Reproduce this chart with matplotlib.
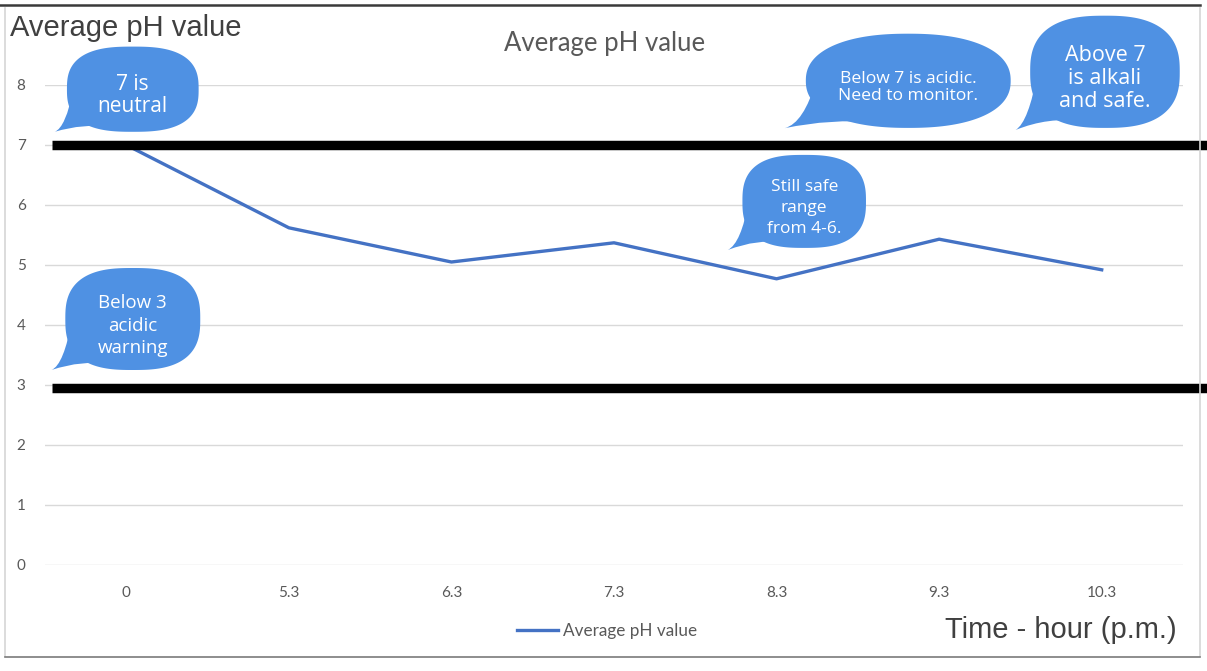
import matplotlib
matplotlib.use('Agg')
import matplotlib.pyplot as plt
import matplotlib.transforms as mtransforms
from matplotlib.lines import Line2D
from matplotlib.path import Path
from matplotlib.patches import PathPatch
import numpy as np

# time of sampling (p.m.) and the averaged readings
hours = ['0', '5.3', '6.3', '7.3', '8.3', '9.3', '10.3']
ph_values = [7.0, 5.62, 5.05, 5.37, 4.77, 5.43, 4.92]

# neutral mark and acidic warning mark
limit_levels = [7.0, 2.95]

# speech bubble notes
note_texts = ['7 is\nneutral',
              'Below 3\nacidic\nwarning',
              'Still safe\nrange\nfrom 4-6.',
              'Below 7 is acidic.\nNeed to monitor.',
              'Above 7\nis alkali\nand safe.']
note_centers = [(0.04, 7.93), (0.04, 4.10), (4.17, 6.06), (4.81, 8.07), (6.02, 8.22)]
note_sizes = [(0.81, 1.42), (0.83, 1.70), (0.76, 1.55), (1.26, 1.57), (0.92, 1.87)]
note_tips = [(-0.44, 7.22), (-0.46, 3.25), (3.70, 5.25), (4.05, 7.28), (5.47, 7.25)]
note_fonts = [15, 13.5, 12.5, 12.6, 15.5]
note_spacing = [1.05, 1.3, 1.45, 1.05, 1.12]
note_round = [2.7, 2.7, 2.7, 2.3, 2.6]

BUBBLE = '#4F91E3'


def bubble(ax, cx, cy, w, h, tip, n):
    # rounded body (superellipse) plus a curled tail at the lower left
    t = np.linspace(0, 2 * np.pi, 300)
    ct, st = np.cos(t), np.sin(t)
    bx = cx + w / 2 * np.sign(ct) * np.abs(ct) ** (2 / n)
    by = cy + h / 2 * np.sign(st) * np.abs(st) ** (2 / n)
    ax.fill(bx, by, color=BUBBLE, lw=0, clip_on=False, zorder=6)

    left, bottom = cx - w / 2, cy - h / 2
    a = (left + 0.05 * w, cy)
    b = (left + 0.35 * w, bottom + 0.06 * h)
    verts = [a,
             (left - 0.01 * w, bottom + 0.05 * h), tip,
             (left + 0.12 * w, bottom + 0.10 * h), b,
             (cx, cy), a]
    codes = [Path.MOVETO, Path.CURVE3, Path.CURVE3, Path.CURVE3, Path.CURVE3,
             Path.LINETO, Path.CLOSEPOLY]
    ax.add_patch(PathPatch(Path(verts, codes), facecolor=BUBBLE, lw=0,
                           clip_on=False, zorder=6))


fig = plt.figure(figsize=(12.07, 6.71), dpi=100)
W, H = 1207, 671

ax = fig.add_axes([45 / W, (H - 565) / H, (1183 - 45) / W, 480 / H])
x = np.arange(len(hours))

ax.set_xlim(-0.5, len(hours) - 0.5)
ax.set_ylim(0, 8)
ax.set_yticks(range(0, 9))
ax.set_xticks(x)
ax.set_xticklabels(hours)
ax.grid(axis='y', color='#D9D9D9', lw=1)
ax.set_axisbelow(True)
for s in ax.spines.values():
    s.set_visible(False)
ax.tick_params(length=0, colors='#595959', labelsize=11)
ax.tick_params(axis='y', pad=14)
ax.tick_params(axis='x', pad=15)
for lab in ax.get_xticklabels() + ax.get_yticklabels():
    lab.set_family('Lato')

ax.plot(x, ph_values, color='#4472C4', lw=2.4, solid_joinstyle='round',
        label='Average pH value', zorder=3)

# thick reference bars running out to the right edge
trans = mtransforms.blended_transform_factory(fig.transFigure, ax.transData)
for lvl in limit_levels:
    ax.plot([52 / W, 1.0], [lvl, lvl], transform=trans, color='black', lw=6.8,
            solid_capstyle='butt', clip_on=False, zorder=5)

# text sits a little below the middle of each bubble
text_drop = 0.11
for txt, (cx, cy), (w, h), tip, fs, ls, n in zip(note_texts, note_centers, note_sizes,
                                                 note_tips, note_fonts, note_spacing,
                                                 note_round):
    bubble(ax, cx, cy, w, h, tip, n)
    ax.text(cx, cy - text_drop, txt, ha='center', va='center', color='white',
            fontsize=fs, family='Open Sans', linespacing=ls, zorder=7, clip_on=False)

fig.text(605 / W, 1 - 44 / H, 'Average pH value', ha='center', va='center',
         fontsize=18.5, color='#595959', family='Lato')
fig.text(10 / W, 1 - 28 / H, 'Average pH value', ha='left', va='center',
         fontsize=21, color='#404040', family='Liberation Sans')
fig.text(1177 / W, 1 - 630 / H, 'Time - hour (p.m.)', ha='right', va='center',
         fontsize=21, color='#404040', family='Liberation Sans')

fig.legend(loc='center', bbox_to_anchor=(607 / W, 1 - 631 / H), frameon=False,
           handlelength=2.4, handletextpad=0.3,
           prop={'family': 'Lato', 'size': 12.3}, labelcolor='#595959')

# sheet frame around the chart
fig.add_artist(Line2D([0, 1200 / W], [1 - 5 / H] * 2, transform=fig.transFigure,
                      color='#3A3A3A', lw=1.8))
fig.add_artist(Line2D([5 / W, 5 / W], [1 - 8 / H, 1 - 656 / H], transform=fig.transFigure,
                      color='#D5D5D5', lw=1.2))
fig.add_artist(Line2D([1200 / W, 1200 / W], [1 - 8 / H, 1 - 656 / H],
                      transform=fig.transFigure, color='#D5D5D5', lw=1.2))
fig.add_artist(Line2D([5 / W, 1200 / W], [1 - 657 / H] * 2, transform=fig.transFigure,
                      color='#7A7A7A', lw=1.2))

fig.savefig('out.png', dpi=100, facecolor='white')
